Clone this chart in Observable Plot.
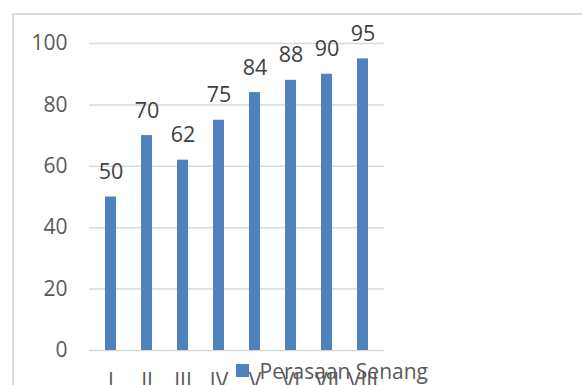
<!DOCTYPE html>
<html>
<head>
<meta charset="utf-8">
<script src="https://cdn.jsdelivr.net/npm/d3@7"></script>
<script src="https://cdn.jsdelivr.net/npm/@observablehq/plot@0.6"></script>
<style>
  html, body { margin: 0; padding: 0; background: #fff; overflow: hidden; width: 582px; height: 385px; }
  #wrap { position: relative; width: 582px; height: 385px; overflow: hidden; }
  #frame { position: absolute; left: 12px; top: 13px; width: 800px; height: 500px; border: 2px solid #d9d9d9; box-sizing: border-box; }
  #chart { position: absolute; left: 0; top: 0; }
  #legend { position: absolute; left: 236px; top: 354px; }
  #legend .plot-swatch > svg { margin-right: 6px !important; }
</style>
</head>
<body>
<div id="wrap">
  <div id="frame"></div>
  <div id="chart"></div>
  <div id="legend"></div>
</div>
<script>
const categories = ["I", "II", "III", "IV", "V", "VI", "VII", "VIII"];
const values = [50, 70, 62, 75, 84, 88, 90, 95];
const yTicks = [0, 20, 40, 60, 80, 100];
const seriesName = "Perasaan Senang";
const barColor = "#4f81bd";

const data = categories.map((c, i) => ({ cat: c, value: values[i] }));
const font = "'Open Sans', 'Liberation Sans', sans-serif";

const chart = Plot.plot({
  width: 582,
  height: 390,
  marginLeft: 89,
  marginRight: 198,
  marginTop: 43,
  marginBottom: 40,
  style: { fontFamily: font, fontSize: "21px", color: "#595959", background: "transparent", overflow: "visible" },
  x: { domain: categories, paddingInner: 0.7, paddingOuter: 0.35, label: null, tickSize: 0, tickPadding: 23 },
  y: { domain: [0, 100], ticks: yTicks, label: null, tickSize: 0, tickPadding: 22 },
  marks: [
    Plot.gridY(yTicks, { stroke: "#d9d9d9", strokeOpacity: 1, strokeWidth: 1.5 }),
    Plot.barY(data, { x: "cat", y: "value", fill: barColor }),
    Plot.text(data, { x: "cat", y: "value", text: d => String(d.value), dy: -18, lineAnchor: "bottom", fill: "#404040", fontSize: 21.5 })
  ]
});
document.getElementById("chart").appendChild(chart);

const legend = Plot.legend({
  legend: "swatches",
  color: { type: "ordinal", domain: [seriesName], range: [barColor] },
  swatchSize: 13,
  style: { fontFamily: font, fontSize: "21px", color: "#595959", margin: 0 }
});
document.getElementById("legend").appendChild(legend);
</script>
</body>
</html>
